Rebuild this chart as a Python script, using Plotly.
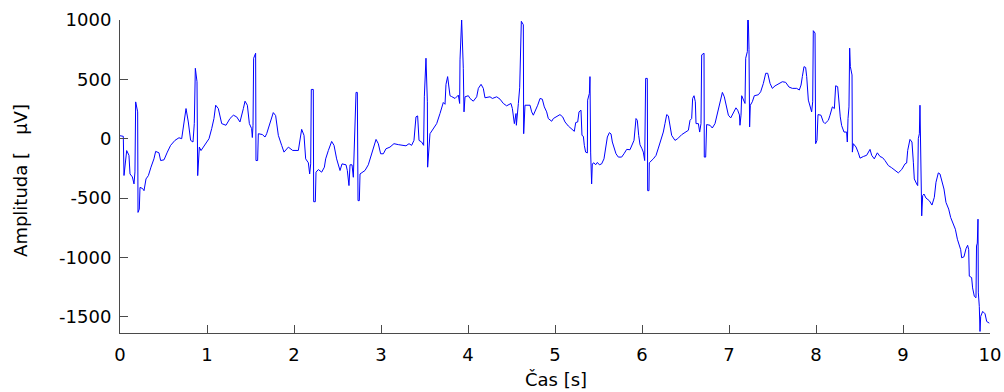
import plotly.graph_objects as go

# time [s]
cas = [
    0.000, 0.038, 0.046, 0.077, 0.103, 0.115, 0.142, 0.161, 0.172, 0.180,
    0.203, 0.207, 0.222, 0.230, 0.260, 0.276, 0.299, 0.326, 0.356, 0.390,
    0.410, 0.448, 0.467, 0.506, 0.544, 0.582, 0.632, 0.678, 0.709, 0.736,
    0.759, 0.785, 0.812, 0.839, 0.854, 0.866, 0.885, 0.893, 0.912, 0.931,
    0.969, 1.023, 1.054, 1.080, 1.100, 1.130, 1.169, 1.218, 1.264, 1.303,
    1.341, 1.379, 1.418, 1.437, 1.464, 1.487, 1.513, 1.521, 1.529, 1.536,
    1.559, 1.563, 1.582, 1.590, 1.636, 1.667, 1.686, 1.724, 1.762, 1.789,
    1.820, 1.858, 1.885, 1.935, 1.985, 2.050, 2.069, 2.088, 2.115, 2.134,
    2.165, 2.180, 2.192, 2.199, 2.222, 2.226, 2.245, 2.253, 2.280, 2.318,
    2.349, 2.364, 2.395, 2.433, 2.460, 2.490, 2.529, 2.552, 2.598, 2.613,
    2.632, 2.644, 2.667, 2.682, 2.713, 2.728, 2.736, 2.751, 2.759, 2.816,
    2.854, 2.885, 2.912, 2.943, 2.969, 2.996, 3.027, 3.057, 3.103, 3.149,
    3.199, 3.257, 3.287, 3.322, 3.352, 3.379, 3.402, 3.421, 3.437, 3.467,
    3.490, 3.498, 3.517, 3.533, 3.536, 3.563, 3.621, 3.640, 3.678, 3.716,
    3.736, 3.747, 3.766, 3.774, 3.793, 3.812, 3.851, 3.889, 3.904, 3.908,
    3.927, 3.946, 3.954, 3.966, 4.004, 4.023, 4.061, 4.100, 4.119, 4.150,
    4.176, 4.195, 4.253, 4.280, 4.330, 4.368, 4.406, 4.444, 4.494, 4.510,
    4.533, 4.552, 4.556, 4.579, 4.594, 4.613, 4.636, 4.640, 4.655, 4.713,
    4.732, 4.751, 4.770, 4.801, 4.828, 4.854, 4.877, 4.904, 4.923, 4.962,
    4.981, 5.019, 5.057, 5.088, 5.115, 5.153, 5.192, 5.222, 5.238, 5.261,
    5.276, 5.299, 5.310, 5.326, 5.337, 5.352, 5.372, 5.375, 5.395, 5.402,
    5.410, 5.421, 5.429, 5.448, 5.467, 5.487, 5.510, 5.536, 5.563, 5.582,
    5.602, 5.625, 5.644, 5.659, 5.678, 5.701, 5.728, 5.766, 5.793, 5.824,
    5.862, 5.881, 5.908, 5.931, 5.946, 5.962, 5.977, 6.000, 6.015, 6.031,
    6.042, 6.061, 6.065, 6.080, 6.084, 6.130, 6.161, 6.188, 6.215, 6.245,
    6.264, 6.284, 6.303, 6.322, 6.341, 6.379, 6.410, 6.456, 6.494, 6.533,
    6.552, 6.571, 6.582, 6.598, 6.613, 6.621, 6.648, 6.663, 6.678, 6.686,
    6.713, 6.716, 6.732, 6.743, 6.782, 6.808, 6.839, 6.866, 6.897, 6.924,
    6.946, 6.966, 6.993, 7.020, 7.050, 7.080, 7.100, 7.120, 7.126, 7.138,
    7.146, 7.176, 7.184, 7.192, 7.211, 7.215, 7.222, 7.230, 7.237, 7.245,
    7.268, 7.291, 7.337, 7.364, 7.395, 7.422, 7.445, 7.472, 7.498, 7.529,
    7.567, 7.613, 7.651, 7.690, 7.728, 7.778, 7.808, 7.828, 7.843, 7.862,
    7.881, 7.893, 7.912, 7.931, 7.950, 7.962, 7.969, 7.989, 7.996, 8.011,
    8.023, 8.057, 8.084, 8.103, 8.142, 8.161, 8.188, 8.211, 8.226, 8.249,
    8.264, 8.279, 8.295, 8.322, 8.352, 8.360, 8.368, 8.379, 8.387, 8.395,
    8.414, 8.418, 8.429, 8.460, 8.487, 8.506, 8.544, 8.582, 8.621, 8.640,
    8.670, 8.705, 8.736, 8.766, 8.793, 8.831, 8.870, 8.908, 8.946, 8.985,
    9.023, 9.042, 9.054, 9.080, 9.103, 9.119, 9.130, 9.157, 9.169, 9.176,
    9.188, 9.195, 9.207, 9.215, 9.226, 9.241, 9.264, 9.303, 9.333, 9.360,
    9.379, 9.406, 9.425, 9.452, 9.471, 9.494, 9.525, 9.548, 9.579, 9.602,
    9.625, 9.648, 9.663, 9.674, 9.701, 9.724, 9.743, 9.755, 9.762, 9.789,
    9.800, 9.820, 9.839, 9.845, 9.854, 9.862, 9.866, 9.877, 9.885, 9.893,
    9.916, 9.943, 9.962, 9.992,
]

# amplitude [uV]
amplituda = [
    25, 20, -310, -100, -140, -297, -322, -381, -280, 310,
    226, -621, -593, -410, -420, -438, -339, -311, -240, -170,
    -107, -119, -184, -178, -113, -56, -14, 8, 0, 141,
    254, 141, -14, -28, 127, 593, 480, -311, -71, -100,
    -60, 0, 85, 170, 282, 254, 127, 113, 170, 198,
    184, 141, 254, 316, 282, 127, 85, 10, 113, 678,
    720, -184, -184, 42, 35, 14, 42, 127, 220, 195,
    28, -56, -113, -71, -99, -99, -14, 79, 28, -170,
    -203, -297, -212, 415, 415, -531, -531, -282, -260, -282,
    -240, -170, -99, -23, -56, -170, -268, -212, -220, -268,
    -395, -220, -220, -325, 390, 390, -522, -522, -297, -268,
    -220, -141, -71, -6, -42, -127, -127, -85, -71, -42,
    -50, -56, -60, -42, -56, -14, 184, 192, -14, -28,
    -56, 353, 678, 311, -240, 42, 99, 127, 212, 305,
    290, 458, 523, 466, 362, 355, 339, 367, 297, 664,
    1005, 593, 226, 353, 362, 339, 316, 353, 424, 458,
    424, 345, 353, 339, 353, 333, 297, 277, 297, 254,
    127, 212, 113, 297, 429, 989, 960, 42, 282, 282,
    226, 198, 226, 282, 339, 333, 268, 226, 170, 147,
    170, 184, 203, 184, 141, 107, 79, 62, 136, 141,
    226, 240, 28, 20, -56, -113, -120, 325, 381, 523,
    -120, -381, -212, -203, -220, -200, -220, -212, -170, -71,
    14, 51, 40, -28, -79, -127, -155, -155, -127, -90,
    -93, -56, -14, 170, 155, 28, -51, -85, -113, -184,
    508, 508, -438, -438, -203, -170, -141, -79, -14, 56,
    127, 203, 192, 99, 28, -14, 0, 34, 56, 71,
    155, 170, 339, 362, 311, 127, 127, 56, 127, 706,
    720, -155, -155, 119, 113, 90, 127, 220, 325, 390,
    353, 277, 198, 175, 220, 260, 240, 200, 113, 198,
    362, 320, 297, 678, 734, 1020, 1010, 750, 99, 282,
    311, 362, 370, 395, 466, 551, 551, 466, 424, 445,
    458, 480, 475, 435, 424, 424, 410, 452, 523, 607,
    600, 523, 325, 282, 226, 311, 910, 890, -42, -14,
    203, 198, 141, 127, 155, 198, 268, 254, 446, 438,
    282, 184, 110, 56, 56, -28, 170, 268, 763, 607,
    537, -113, -42, -70, -119, -164, -150, -140, -90, -140,
    -170, -119, -150, -160, -184, -226, -245, -268, -288, -260,
    -212, -205, -99, -6, -28, -198, -339, -381, -395, 0,
    42, 282, -282, -650, -480, -466, -500, -523, -559, -494,
    -367, -288, -297, -367, -424, -537, -593, -664, -720, -763,
    -847, -910, -935, -1003, -995, -927, -898, -935, -1158, -1170,
    -1257, -1328, -1340, -904, -880, -678, -1299, -1413, -1624, -1497,
    -1455, -1475, -1540, -1554,
]

x_ticks = [0, 1, 2, 3, 4, 5, 6, 7, 8, 9, 10]
x_tick_text = ["0", "1", "2", "3", "4", "5", "6", "7", "8", "9", "10"]
y_ticks = [-1500, -1000, -500, 0, 500, 1000]
y_tick_text = ["-1500", "-1000", "-500", "0", "500", "1000"]
x_title = "Čas [s]"
y_title = "Amplituda [\u00a0\u00a0\u00a0µV]"

FONT = "DejaVu Sans"

fig = go.Figure()
fig.add_trace(go.Scatter(
    x=cas, y=amplituda, mode="lines",
    line=dict(color="#0000ff", width=1),
    hoverinfo="skip", showlegend=False,
))

axis_common = dict(
    showgrid=False, zeroline=False, showline=True,
    linecolor="#4a4a4a", linewidth=1, mirror=False,
    ticks="inside", ticklen=8, tickwidth=1, tickcolor="#4a4a4a",
    tickfont=dict(family=FONT, size=18, color="#000000"),
    tickmode="array",
)

fig.update_layout(
    width=1004, height=392,
    margin=dict(l=120, r=14, t=20, b=59, autoexpand=False),
    paper_bgcolor="white", plot_bgcolor="white",
    xaxis=dict(range=[0, 10], tickvals=x_ticks, ticktext=x_tick_text,
               ticklabelstandoff=5, **axis_common),
    yaxis=dict(range=[-1637, 1000], tickvals=y_ticks, ticktext=y_tick_text,
               ticklabelstandoff=4, **axis_common),
    annotations=[
        dict(text=x_title, xref="paper", yref="paper", x=0.501, y=-0.147,
             xanchor="center", yanchor="middle", showarrow=False,
             font=dict(family=FONT, size=18, color="#000000")),
        dict(text=y_title, xref="paper", yref="paper", x=-0.1138, y=0.489,
             xanchor="center", yanchor="middle", showarrow=False, textangle=-90,
             font=dict(family=FONT, size=18, color="#000000")),
    ],
)

fig.write_html("out.html")
